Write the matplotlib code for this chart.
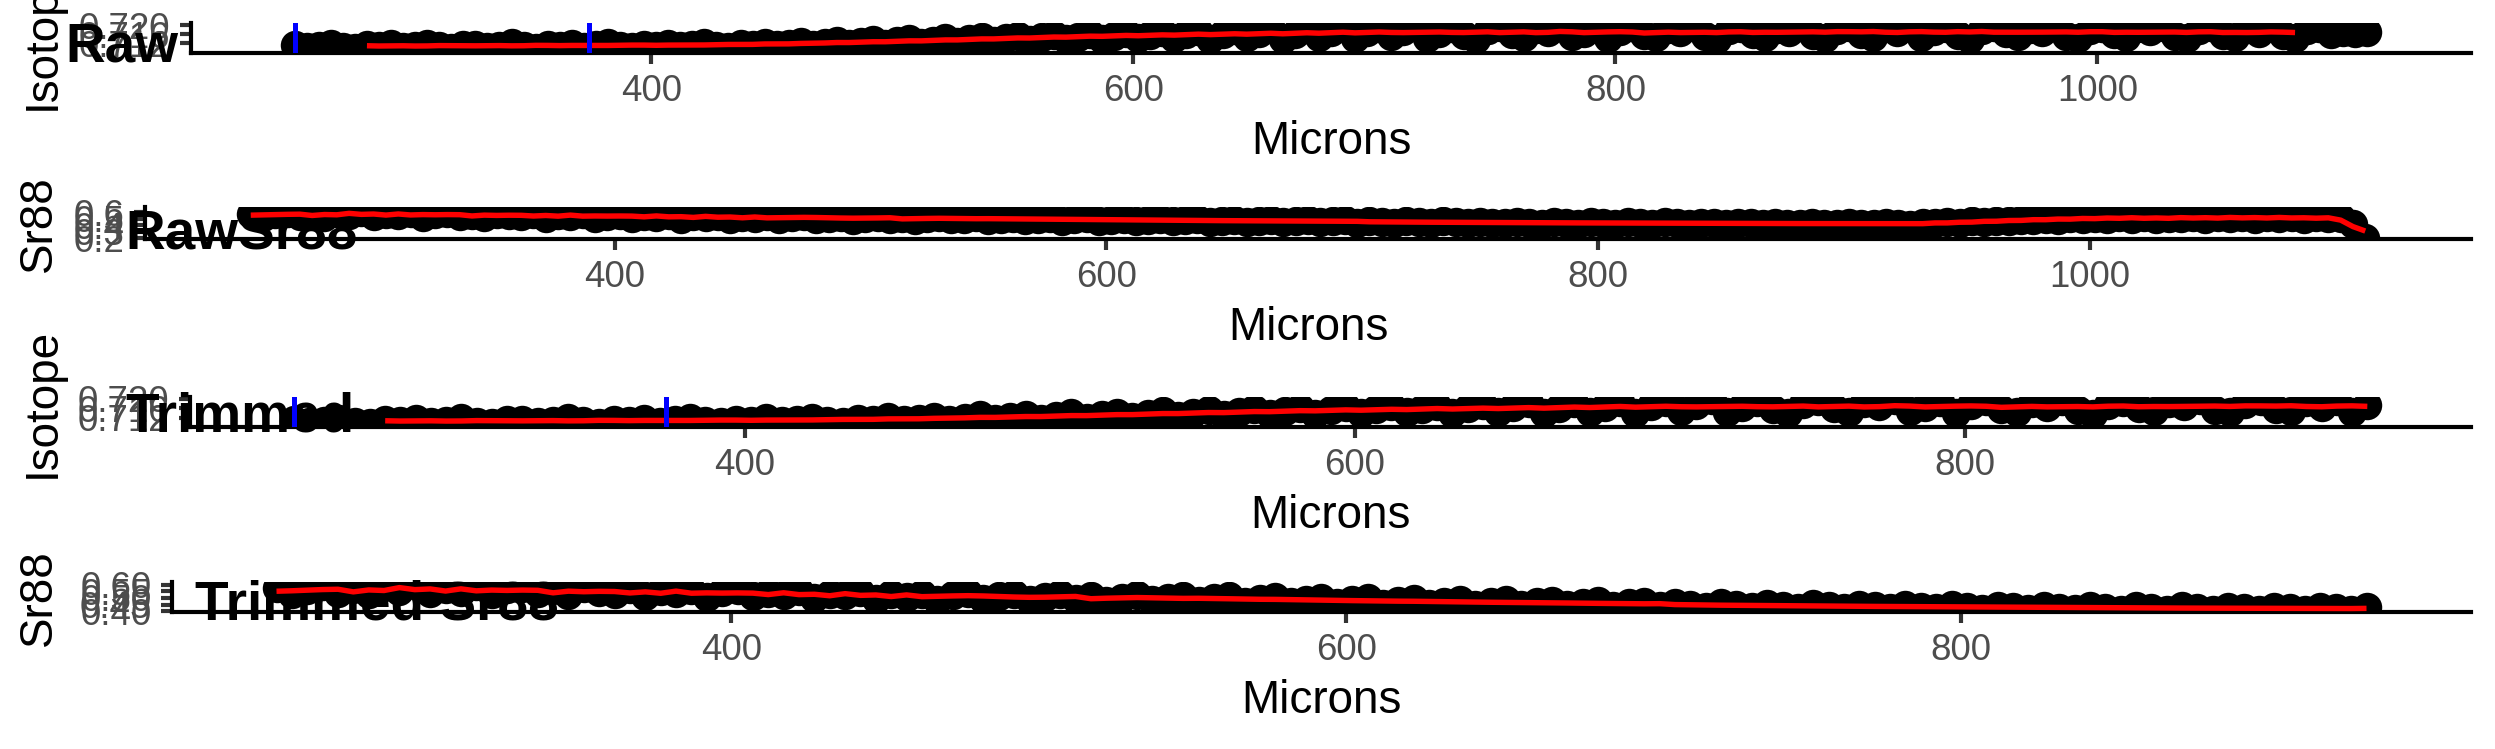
import numpy as np
import pandas as pd
import matplotlib
matplotlib.use("Agg")
import matplotlib.pyplot as plt
from matplotlib.ticker import FixedLocator

plt.rcParams['font.family'] = ['Liberation Sans', 'DejaVu Sans']

# ---------------- data ----------------
x_start = 252          # first sample position (microns)
x_step = 5             # sample spacing (microns)
trim_max = 934         # trimmed profile ends here (microns)
vline_x = [252, 374]   # blue markers

isotope = [
    0.7112, 0.7101, 0.7109, 0.7117, 0.7104, 0.7099, 0.7111, 0.7106, 0.7114, 0.7102,
    0.7108, 0.7118, 0.7105, 0.7097, 0.7110, 0.7113, 0.7103, 0.7109, 0.7119, 0.7106,
    0.7100, 0.7112, 0.7108, 0.7115, 0.7104, 0.7110, 0.7120, 0.7107, 0.7101, 0.7113,
    0.7109, 0.7118, 0.7106, 0.7112, 0.7121, 0.7108, 0.7103, 0.7116, 0.7112, 0.7122,
    0.7110, 0.7117,
    0.7126, 0.7110, 0.7121, 0.7131, 0.7114, 0.7124, 0.7133, 0.7117, 0.7128, 0.7139,
    0.7121, 0.7131, 0.7142, 0.7125, 0.7136, 0.7148, 0.7129, 0.7141, 0.7152, 0.7133,
    0.7146, 0.7157, 0.7138, 0.7149, 0.7160, 0.7137, 0.7153, 0.7166, 0.7141, 0.7156,
    0.7170, 0.7143, 0.7159, 0.7172, 0.7139, 0.7161, 0.7176, 0.7145, 0.7165, 0.7181,
    0.7140, 0.7162, 0.7183, 0.7147, 0.7168, 0.7186, 0.7142, 0.7170,
    0.7189, 0.7151, 0.7174, 0.7194, 0.7143, 0.7166, 0.7185, 0.7157, 0.7139, 0.7178,
    0.7192, 0.7160, 0.7147, 0.7181, 0.7170, 0.7196, 0.7150, 0.7164, 0.7187, 0.7141,
    0.7173, 0.7190, 0.7158, 0.7145, 0.7182, 0.7167, 0.7193, 0.7152, 0.7138, 0.7176,
    0.7188, 0.7162, 0.7148, 0.7184, 0.7171, 0.7195, 0.7155, 0.7143, 0.7179, 0.7190,
    0.7159, 0.7149, 0.7186, 0.7168, 0.7192, 0.7146, 0.7175, 0.7188, 0.7156, 0.7140,
    0.7180, 0.7191, 0.7163, 0.7150, 0.7183, 0.7169, 0.7194, 0.7153, 0.7142, 0.7177,
    0.7189, 0.7160, 0.7147, 0.7185, 0.7172, 0.7193, 0.7151, 0.7144, 0.7178, 0.7190,
    0.7158, 0.7148, 0.7182, 0.7166, 0.7192, 0.7154, 0.7141, 0.7176, 0.7187, 0.7161,
    0.7170, 0.7165, 0.7168,
]

sr88 = [
    0.575, 0.528, 0.562, 0.590, 0.541, 0.569, 0.530, 0.585, 0.556, 0.597,
    0.538, 0.572, 0.549, 0.588, 0.527, 0.566, 0.580, 0.535, 0.561, 0.522,
    0.573, 0.548, 0.531, 0.569, 0.515, 0.556, 0.537, 0.564, 0.508, 0.545,
    0.559, 0.512, 0.540, 0.526, 0.553, 0.498, 0.534, 0.519, 0.546, 0.495,
    0.528, 0.510,
    0.532, 0.488, 0.519, 0.540, 0.494, 0.512, 0.527, 0.483, 0.505, 0.530,
    0.491, 0.514, 0.478, 0.503, 0.522, 0.485, 0.497, 0.518, 0.476, 0.499,
    0.513, 0.470, 0.492, 0.508, 0.468, 0.486, 0.503, 0.462, 0.481, 0.497,
    0.457, 0.476, 0.494, 0.455, 0.471, 0.488, 0.450, 0.469, 0.483, 0.447,
    0.466, 0.479, 0.444, 0.462, 0.474, 0.441, 0.459, 0.470,
    0.438, 0.462, 0.449, 0.433, 0.458, 0.444, 0.430, 0.455, 0.441, 0.427,
    0.452, 0.438, 0.425, 0.449, 0.436, 0.422, 0.447, 0.433, 0.420, 0.445,
    0.431, 0.418, 0.442, 0.429, 0.416, 0.440, 0.427, 0.414, 0.438, 0.425,
    0.412, 0.436, 0.424, 0.411, 0.435, 0.423, 0.410, 0.434, 0.422, 0.409,
    0.433, 0.421, 0.408, 0.432, 0.420, 0.407, 0.431, 0.424, 0.441, 0.432,
    0.455, 0.447, 0.468, 0.459, 0.481, 0.472, 0.493, 0.480, 0.502, 0.489,
    0.511, 0.494, 0.517, 0.499, 0.520, 0.492, 0.514, 0.503, 0.524, 0.496,
    0.518, 0.505, 0.526, 0.498, 0.519, 0.507, 0.523, 0.495, 0.516, 0.504,
    0.512, 0.410, 0.205,
]

iso_ticks = [0.712, 0.716, 0.720]
iso_ticklabels = ["0.712", "0.716", "0.720"]
sr_raw_ticks = [0.2, 0.3, 0.4, 0.5, 0.6]
sr_raw_ticklabels = ["0.2", "0.3", "0.4", "0.5", "0.6"]
sr_trim_ticks = [0.40, 0.45, 0.50, 0.55, 0.60]
sr_trim_ticklabels = ["0.40", "0.45", "0.50", "0.55", "0.60"]
x_ticks = [400, 600, 800, 1000]

panel_titles = ["Raw", "RawSr88", "Trimmed", "Trimmed Sr88"]
y_titles = ["Isotope", "Sr88", "Isotope", "Sr88"]
x_title = "Microns"

# ---------------- derived series ----------------
x = np.arange(len(isotope)) * x_step + x_start
iso = np.array(isotope)
sr = np.array(sr88)
iso_smooth = pd.Series(iso).rolling(13, center=True).mean().to_numpy()
sr_smooth = pd.Series(sr).rolling(3, center=True, min_periods=1).mean().to_numpy()
trim = x <= trim_max

# ---------------- layout (pixels) ----------------
W, H = 2495, 749
DPI = 300
fig = plt.figure(figsize=(W / DPI, H / DPI), dpi=DPI)
fig.patch.set_facecolor("white")

RIGHT = 2471
panels = [
    dict(l=191, t=23, b=53, ylim=(0.7076, 0.7209), ticks=iso_ticks, tl=iso_ticklabels,
         xv=x, yv=iso, sm=iso_smooth, vl=True, title=(65, 62), ylab=(43, 35)),
    dict(l=145, t=207, b=239, ylim=(0.185, 0.677), ticks=sr_raw_ticks, tl=sr_raw_ticklabels,
         xv=x, yv=sr, sm=sr_smooth, vl=False, title=(125, 250), ylab=(38.5, 224)),
    dict(l=190, t=397, b=427, ylim=(0.7082, 0.7208), ticks=iso_ticks, tl=iso_ticklabels,
         xv=x[trim], yv=iso[trim], sm=iso_smooth[trim], vl=True, title=(125, 431), ylab=(43, 403)),
    dict(l=172, t=582, b=612, ylim=(0.393, 0.622), ticks=sr_trim_ticks, tl=sr_trim_ticklabels,
         xv=x[trim], yv=sr[trim], sm=sr_smooth[trim], vl=False, title=(195, 620), ylab=(38.5, 598)),
]


def fx(px):
    return px / W


def fy(py):
    return 1 - py / H


for i, p in enumerate(panels):
    ax = fig.add_axes([fx(p["l"]), fy(p["b"]), (RIGHT - p["l"]) / W, (p["b"] - p["t"]) / H])
    ax.patch.set_facecolor("none")

    xv = p["xv"]
    ax.scatter(xv, p["yv"], s=50, c="black", linewidths=0, zorder=2)
    ax.plot(xv, p["sm"], color="red", lw=1.3, zorder=3, solid_capstyle="butt")
    if p["vl"]:
        for v in vline_x:
            ax.axvline(v, color="blue", lw=1.2, zorder=4)

    span = xv.max() - xv.min()
    ax.set_xlim(xv.min() - 0.05 * span, xv.max() + 0.05 * span)
    ax.set_ylim(*p["ylim"])
    ax.xaxis.set_major_locator(FixedLocator([t for t in x_ticks if t <= xv.max()]))
    ax.set_yticks(p["ticks"])
    ax.set_yticklabels(p["tl"])

    for s in ("top", "right"):
        ax.spines[s].set_visible(False)
    for s in ("left", "bottom"):
        ax.spines[s].set_linewidth(1.0)
        ax.spines[s].set_color("black")
    ax.tick_params(axis="both", direction="out", length=2.75, width=1.0,
                   color="#333333", labelcolor="#4D4D4D", labelsize=8.8, pad=2.2)

    # panel title (drawn beneath the data)
    tx, ty = p["title"]
    ax.text(fx(tx), fy(ty), panel_titles[i], transform=fig.transFigure,
            fontsize=13.2, fontweight="bold", color="black",
            ha="left", va="baseline", zorder=1.8, clip_on=False)

    # axis titles
    lx, ly = p["ylab"]
    fig.text(fx(lx), fy(ly), y_titles[i], rotation=90, fontsize=11,
             color="black", ha="center", va="center")
    fig.text(fx((p["l"] + RIGHT) / 2), fy(p["b"] + 89), x_title, fontsize=11,
             color="black", ha="center", va="center")

fig.savefig("out.png", dpi=DPI, facecolor="white")
